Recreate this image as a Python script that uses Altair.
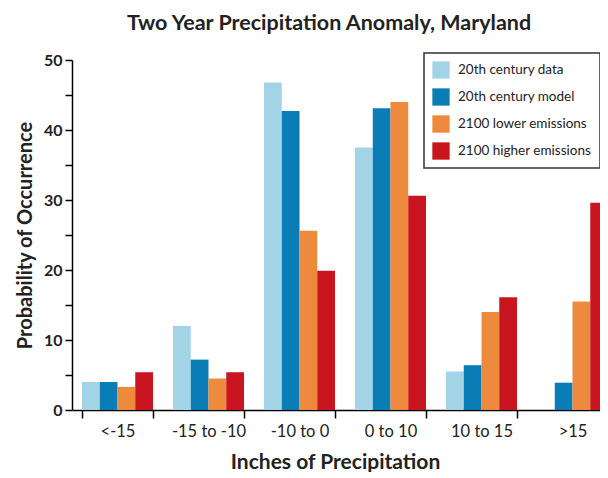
import altair as alt
import pandas as pd

categories = ["<-15", "-15 to -10", "-10 to 0", "0 to 10", "10 to 15", ">15"]
series = ["20th century data", "20th century model", "2100 lower emissions", "2100 higher emissions"]
colors = ["#a3d4e6", "#0a7db6", "#ee8a3d", "#c9151f"]

data_20c = [4.0, 12.0, 46.8, 37.5, 5.5, 0.0]
model_20c = [4.0, 7.2, 42.7, 43.1, 6.4, 3.9]
lower_2100 = [3.3, 4.5, 25.6, 44.0, 14.0, 15.5]
higher_2100 = [5.4, 5.4, 19.9, 30.6, 16.1, 29.6]

rows = []
for s, vals in zip(series, [data_20c, model_20c, lower_2100, higher_2100]):
    for c, v in zip(categories, vals):
        rows.append({"bin": c, "series": s, "value": v})
df = pd.DataFrame(rows)

FONT = "Lato"

chart = alt.Chart(df).mark_bar().encode(
    x=alt.X("bin:N", sort=categories,
            scale=alt.Scale(paddingInner=0.22, paddingOuter=0.11, range=[0, 546]),
            axis=alt.Axis(title="Inches of Precipitation", labelAngle=0, tickBand="extent",
                          tickSize=8, tickColor="black", tickWidth=1.5,
                          domainColor="black", domainWidth=1.5,
                          labelFont=FONT, labelFontSize=16.5, labelColor="#222",
                          labelPadding=5, titleFont=FONT, titleFontSize=21,
                          titleFontWeight="bold", titleColor="#222", titlePadding=12,
                          titleX=263)),
    xOffset=alt.XOffset("series:N", sort=series, scale=alt.Scale(paddingInner=0, paddingOuter=0)),
    y=alt.Y("value:Q", scale=alt.Scale(domain=[0, 50], nice=False),
            axis=alt.Axis(title="Probability of Occurrence", values=list(range(0, 51, 5)),
                          labelExpr="datum.value % 10 == 0 ? datum.label : ''",
                          grid=False, tickSize=7, tickColor="black", tickWidth=1.5,
                          domainColor="black", domainWidth=1.5,
                          labelFont=FONT, labelFontSize=16, labelFontWeight="bold",
                          labelColor="#222", labelPadding=3,
                          titleFont=FONT, titleFontSize=20, titleFontWeight="bold",
                          titleColor="#222", titlePadding=8)),
    color=alt.Color("series:N", sort=series,
                    scale=alt.Scale(domain=series, range=colors),
                    legend=alt.Legend(title=None, orient="none", legendX=352, legendY=-7,
                                      symbolType="square", symbolSize=300,
                                      symbolStrokeWidth=0, symbolOpacity=1,
                                      labelFont=FONT, labelFontSize=13.5, labelColor="#222",
                                      labelOffset=8, rowPadding=9, padding=8,
                                      strokeColor="#333", fillColor="white", labelLimit=300)),
).properties(
    width=528, height=350,
    autosize=alt.AutoSizeParams(type="none"),
    padding={"left": 64, "top": 52, "right": 0, "bottom": 62},
    title=alt.Title("Two Year Precipitation Anomaly, Maryland", font=FONT, fontSize=21.5,
                    fontWeight="bold", color="#222", offset=18, anchor="middle", dx=-7),
).configure_view(stroke=None).configure_legend(strokeWidth=1.5)

chart.save("out.html", embed_options={"renderer": "svg", "actions": False})
